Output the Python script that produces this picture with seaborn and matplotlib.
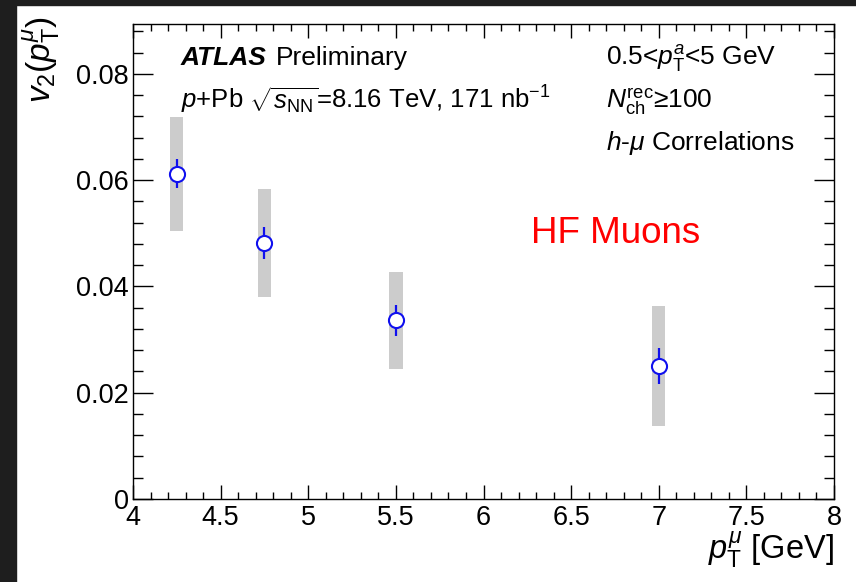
import numpy as np
import pandas as pd
import seaborn as sns
import matplotlib
matplotlib.use("Agg")
import matplotlib.pyplot as plt
from matplotlib.ticker import MultipleLocator, FuncFormatter
from matplotlib.patches import Rectangle

# Heavy-flavour muon v2 vs muon pT (p+Pb, 8.16 TeV)
pt_mu = [4.25, 4.75, 5.5, 7.0]
v2 = [0.0612, 0.0482, 0.0336, 0.0250]
stat_err = [0.0027, 0.0030, 0.0029, 0.0034]
syst_err = [0.0107, 0.0102, 0.0091, 0.0113]

df = pd.DataFrame({"pt": pt_mu, "v2": v2, "stat": stat_err, "syst": syst_err})

sns.set_theme(style="ticks")
plt.rcParams["font.family"] = ["Liberation Sans", "DejaVu Sans"]
plt.rcParams["mathtext.fontset"] = "custom"
plt.rcParams["mathtext.rm"] = "Liberation Sans"
plt.rcParams["mathtext.it"] = "Liberation Sans:italic"
plt.rcParams["mathtext.bf"] = "Liberation Sans:bold"
plt.rcParams["text.color"] = "black"
plt.rcParams["axes.labelcolor"] = "black"
plt.rcParams["xtick.color"] = "black"
plt.rcParams["ytick.color"] = "black"

W, H, DPI = 856, 582, 100
fig = plt.figure(figsize=(W / DPI, H / DPI), dpi=DPI, facecolor="white")

# dark screen margin along the top and left edges
fig.patches.append(Rectangle((0, 1 - 5 / H), 1, 5 / H, transform=fig.transFigure,
                             color="#1e1e1e", zorder=-10))
fig.patches.append(Rectangle((0, 0), 16 / W, 1, transform=fig.transFigure,
                             color="#1e1e1e", zorder=-10))

ax = fig.add_axes([133 / W, 1 - 499 / H, (834 - 133) / W, (499 - 24) / H])
ax.set_facecolor("white")

# systematic uncertainty boxes
ax.bar(df["pt"], 2 * df["syst"], bottom=df["v2"] - df["syst"], width=0.076,
       color="#cccccc", edgecolor="none", zorder=1)

# statistical error bars
ax.errorbar(df["pt"], df["v2"], yerr=df["stat"], fmt="none", ecolor="#1010ee",
            elinewidth=1.6, capsize=0, zorder=2)

sns.scatterplot(data=df, x="pt", y="v2", ax=ax, marker="o", s=118,
                facecolor="white", edgecolor="#1010ee", linewidth=1.5, zorder=3,
                legend=False)

ax.set_xlim(4, 8)
ax.set_ylim(0, 0.0894)

ax.xaxis.set_major_locator(MultipleLocator(0.5))
ax.xaxis.set_minor_locator(MultipleLocator(0.1))
ax.yaxis.set_major_locator(MultipleLocator(0.02))
ax.yaxis.set_minor_locator(MultipleLocator(0.004))
ax.xaxis.set_major_formatter(FuncFormatter(lambda v, p: f"{v:g}"))
ax.yaxis.set_major_formatter(FuncFormatter(lambda v, p: "0" if abs(v) < 1e-9 else f"{v:.2f}"))

ax.tick_params(axis="both", which="both", direction="in", top=True, right=True,
               color="black", labelsize=19.5, labelcolor="black")
ax.tick_params(axis="y", which="major", length=14.5, width=1.0, pad=3)
ax.tick_params(axis="y", which="minor", length=7.2, width=1.0)
ax.tick_params(axis="x", which="major", length=10, width=1.0, pad=4)
ax.tick_params(axis="x", which="minor", length=5, width=1.0)
for s in ax.spines.values():
    s.set_color("black")
    s.set_linewidth(1.0)

ax.set_xlabel(r"$p_{\mathrm{T}}^{\mu}$ [GeV]", fontsize=23.5, loc="right")
ax.xaxis.set_label_coords(1.0, -0.126)
ax.xaxis.label.set_va("baseline")
ax.set_ylabel(r"$v_{2}(p_{\mathrm{T}}^{\mu})$", fontsize=24, loc="top")
ax.yaxis.set_label_coords(-0.13, 1.015)
ax.yaxis.label.set_va("center")


def fx(px):
    return px / W


def fy(py):
    return 1 - py / H


t_atlas = fig.text(fx(181), fy(65), "ATLAS", fontsize=19, fontweight="bold",
                   fontstyle="italic", va="baseline", ha="left")
fig.canvas.draw()
bb = t_atlas.get_window_extent()
fig.text(bb.x1 / W + 9 / W, fy(65), "Preliminary", fontsize=19, va="baseline", ha="left")
fig.text(fx(181), fy(109), r"$p$+Pb $\sqrt{s_{\mathrm{NN}}}$=8.16 TeV, 171 nb$^{-1}$",
         fontsize=18.5, va="baseline", ha="left")

fig.text(fx(606), fy(65), r"0.5<$p_{\mathrm{T}}^{a}$<5 GeV", fontsize=19,
         va="baseline", ha="left")
fig.text(fx(606), fy(109), r"$N_{\mathrm{ch}}^{\mathrm{rec}}$≥100", fontsize=19,
         va="baseline", ha="left")
fig.text(fx(606), fy(150), r"$h$-$\mu$ Correlations", fontsize=19,
         va="baseline", ha="left")

fig.text(fx(531), fy(243), "HF Muons", fontsize=26.5, color="#ff0000",
         va="baseline", ha="left")

fig.savefig("out.png", dpi=DPI, facecolor="white")
